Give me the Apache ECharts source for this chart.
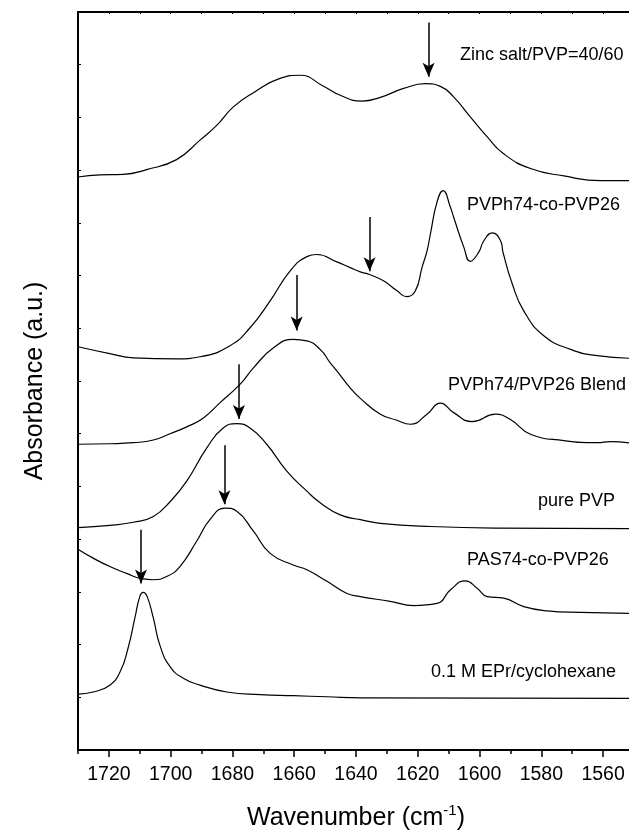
<!DOCTYPE html>
<html>
<head>
<meta charset="utf-8">
<script src="https://cdn.jsdelivr.net/npm/echarts@6/dist/echarts.min.js"></script>
<style>
html, body { margin: 0; padding: 0; background: #fff; }
#chart { width: 629px; height: 840px; }
</style>
</head>
<body>
<div id="chart"></div>
<script>
// tick values of the wavenumber axis
var majorTicks = [1720, 1700, 1680, 1660, 1640, 1620, 1600, 1580, 1560];
var minorTicks = [1730, 1710, 1690, 1670, 1650, 1630, 1610, 1590, 1570, 1550];

// spectra, [wavenumber, stacked absorbance]
var zincSalt = [[1730,10.87],[1722.9,10.91],[1715.4,10.92],[1707.8,11.01],[1698.1,11.20],[1690.5,11.57],[1685.1,11.85],[1679.7,12.20],[1673.2,12.47],[1664.6,12.74],[1658.1,12.80],[1650.5,12.59],[1645.1,12.42],[1638.1,12.31],[1632.1,12.38],[1624.6,12.55],[1617.5,12.64],[1612.7,12.59],[1608.4,12.39],[1603.0,12.01],[1597.5,11.63],[1592.2,11.31],[1583.5,11.03],[1572.7,10.89],[1560.8,10.80],[1550,10.80]];
var copolyPVPh = [[1730,7.65],[1719.7,7.52],[1712.1,7.44],[1698.1,7.42],[1690.5,7.46],[1680.8,7.67],[1674.3,8.01],[1667.8,8.52],[1661.3,9.09],[1655.9,9.36],[1652.7,9.40],[1646.2,9.26],[1641.9,9.15],[1638.6,9.07],[1635.6,9.02],[1631.1,8.90],[1626.7,8.71],[1623.7,8.60],[1620.8,8.71],[1618.6,9.16],[1617.0,9.47],[1615.9,9.79],[1613.8,10.39],[1611.8,10.61],[1609.4,10.29],[1608.4,10.11],[1605.1,9.54],[1603.0,9.27],[1600.3,9.44],[1598.6,9.66],[1595.9,9.81],[1593.2,9.66],[1592.4,9.44],[1589.4,8.84],[1585.7,8.33],[1579.2,7.86],[1570.5,7.60],[1561.9,7.48],[1550,7.43]];
var blend = [[1730,5.80],[1719.7,5.81],[1712.1,5.83],[1705.6,5.88],[1700.2,6.00],[1694.8,6.13],[1689.4,6.30],[1684.0,6.59],[1677.5,6.94],[1673.2,7.25],[1666.7,7.63],[1660.3,7.79],[1655.9,7.76],[1651.6,7.60],[1648.4,7.35],[1646.2,7.19],[1641.9,6.87],[1638.6,6.67],[1632.1,6.37],[1627.0,6.26],[1622.4,6.18],[1617.0,6.37],[1612.7,6.58],[1608.4,6.40],[1602.4,6.23],[1594.9,6.37],[1590.0,6.27],[1583.5,5.99],[1572.7,5.87],[1561.9,5.83],[1557.6,5.85],[1550,5.81]];
var purePVP = [[1730,4.22],[1719.7,4.26],[1712.1,4.32],[1705.6,4.43],[1700.2,4.71],[1694.8,5.10],[1688.3,5.73],[1683.0,6.11],[1678.6,6.19],[1674.3,6.11],[1668.9,5.80],[1662.4,5.29],[1655.9,4.91],[1651.6,4.69],[1645.1,4.46],[1638.6,4.37],[1632.1,4.30],[1615.9,4.24],[1594.3,4.21],[1550,4.20]];
var copolyPAS = [[1730,3.81],[1725.1,3.64],[1719.7,3.48],[1714.3,3.35],[1709.4,3.25],[1705.6,3.23],[1701.3,3.29],[1697.0,3.48],[1691.6,3.96],[1687.3,4.37],[1682.4,4.59],[1678.6,4.53],[1673.2,4.15],[1667.8,3.73],[1660.3,3.51],[1655.9,3.42],[1649.4,3.20],[1642.9,2.97],[1638.6,2.91],[1628.9,2.82],[1621.3,2.74],[1613.8,2.78],[1609.4,3.04],[1604.6,3.21],[1600.8,3.07],[1597.5,2.91],[1592.2,2.88],[1585.7,2.72],[1578.1,2.64],[1567.3,2.61],[1550,2.59]];
var eprSolution = [[1730,1.06],[1725.1,1.10],[1719.7,1.23],[1716.4,1.48],[1713.8,1.93],[1711.6,2.50],[1710.0,2.91],[1708.9,2.99],[1707.6,2.91],[1705.6,2.50],[1703.5,1.99],[1700.2,1.58],[1695.9,1.36],[1690.5,1.23],[1681.8,1.10],[1671.0,1.05],[1660.3,1.03],[1649.4,1.01],[1638.6,0.99],[1550,0.98]];

var spectra = [zincSalt, copolyPVPh, blend, purePVP, copolyPAS, eprSolution];
var names = ["Zinc salt/PVP=40/60", "PVPh74-co-PVP26", "PVPh74/PVP26 Blend", "pure PVP", "PAS74-co-PVP26", "0.1 M EPr/cyclohexane"];
// arrows: [wavenumber, start, tip]
var arrows = [[1616.5,13.80,12.77],[1635.6,10.11,9.08],[1659.2,9.01,7.96],[1677.9,7.32,6.28],[1682.6,5.78,4.66],[1709.6,4.18,3.16]];
// where each caption sits (px)
var labelPos = [[460,57],[467,207],[448,387],[538,503],[467,562],[431,674]];

var chart = echarts.init(document.getElementById("chart"));
var font = "'Liberation Sans', Arial, sans-serif";

var series = spectra.map(function (d, i) {
  return {
    name: names[i],
    type: "line",
    data: d,
    xAxisIndex: 0,
    smooth: 0.5,
    showSymbol: false,
    silent: true,
    lineStyle: { color: "#000", width: 1.2 },
    markLine: {
      silent: true,
      symbol: ["none", "arrow"],
      symbolSize: [9, 14],
      lineStyle: { color: "#000", width: 1.5, type: "solid" },
      label: { show: false },
      data: [[{ coord: [arrows[i][0], arrows[i][1]] }, { coord: [arrows[i][0], arrows[i][2]] }]]
    }
  };
});

var option = {
  animation: false,
  backgroundColor: "#fff",
  grid: { left: 78, top: 12, width: 556, height: 738, outerBoundsMode: "none", containLabel: false },
  xAxis: [
    {
      type: "value", min: 1550, max: 1730, inverse: true, position: "bottom",
      axisLine: { lineStyle: { color: "#000", width: 2 } },
      axisTick: { length: 7, lineStyle: { color: "#000", width: 1.5 }, customValues: majorTicks },
      axisLabel: {
        customValues: majorTicks, color: "#000", fontSize: 19.5, fontFamily: font, margin: 15,
        formatter: function (v) { return String(v); }
      },
      splitLine: { show: false },
      name: "Wavenumber (cm{sup|-1})",
      nameLocation: "middle",
      nameGap: 53,
      nameTextStyle: {
        color: "#000", fontSize: 25, fontFamily: font,
        rich: { sup: { fontSize: 15, fontFamily: font, color: "#000", padding: [0, 0, 16, 0] } }
      }
    },
    {
      type: "value", min: 1550, max: 1730, inverse: true, position: "bottom",
      axisLine: { show: false },
      axisTick: { length: 4, lineStyle: { color: "#000", width: 1.5 }, customValues: minorTicks },
      axisLabel: { show: false },
      splitLine: { show: false }
    },
    {
      type: "value", min: 1550, max: 1730, interval: 10, inverse: true, position: "top",
      axisLine: { lineStyle: { color: "#000", width: 2 } },
      axisTick: { inside: true, length: 2, lineStyle: { color: "#000" } },
      axisLabel: { show: false },
      splitLine: { show: false }
    }
  ],
  yAxis: {
    type: "value", min: 0, max: 14, interval: 1,
    axisLine: { show: true, lineStyle: { color: "#000", width: 2 } },
    axisTick: { inside: true, length: 3, lineStyle: { color: "#000" } },
    axisLabel: { show: false },
    splitLine: { show: false },
    name: "Absorbance (a.u.)",
    nameLocation: "middle",
    nameGap: 30,
    nameTextStyle: { color: "#000", fontSize: 25, fontFamily: font }
  },
  series: series,
  graphic: names.map(function (t, i) {
    return {
      type: "text", left: labelPos[i][0], top: labelPos[i][1] - 11,
      style: { text: t, fontSize: 18, fontFamily: font, fill: "#000" }
    };
  })
};

chart.setOption(option);
</script>
</body>
</html>
